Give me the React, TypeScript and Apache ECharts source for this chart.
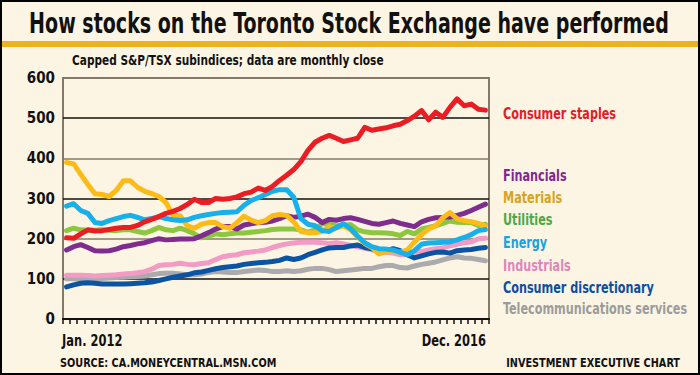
import React, { useEffect, useRef } from "react";
import * as echarts from "echarts";

const months: string[] = [];
for (let y = 2012; y <= 2016; y++) {
  for (let m = 1; m <= 12; m++) months.push(`${y}-${m < 10 ? "0" + m : m}`);
}

const consumerStaples = [202,201,212,222,219,220,223,226,228,228,233,242,248,255,263,268,275,285,298,290,290,300,298,300,304,312,316,326,320,330,345,358,372,392,420,440,450,457,450,442,446,450,477,470,473,476,481,485,494,505,519,496,515,502,527,548,531,535,522,520];
const financials = [172,180,185,178,170,169,170,174,180,183,187,190,195,200,197,198,199,199,200,207,215,224,230,230,224,234,237,240,241,244,250,257,253,256,261,253,240,248,246,250,252,248,243,238,236,240,244,238,234,230,242,248,252,253,254,258,263,270,278,286];
const materials = [390,386,360,335,312,310,305,320,344,344,328,318,312,305,290,258,257,232,226,236,240,240,230,226,240,256,246,240,245,257,260,258,242,218,215,215,218,230,226,232,222,205,188,178,162,168,168,166,172,192,210,224,232,252,265,250,245,242,238,232];
const utilities = [220,226,222,221,221,222,221,220,222,222,218,214,220,228,222,220,226,220,212,202,206,212,210,212,214,214,216,218,220,223,224,224,224,222,216,222,238,236,232,233,235,222,217,215,215,214,212,208,218,212,224,228,232,238,244,241,240,240,233,236];
const energy = [281,287,270,263,240,238,245,250,255,258,253,247,250,255,250,247,245,247,253,257,260,263,265,266,267,283,295,302,310,318,322,322,303,250,236,232,220,218,228,237,225,206,190,180,175,174,172,166,160,170,186,189,190,191,192,197,203,210,220,223];
const industrials = [109,109,109,108,107,108,109,110,112,113,115,118,124,133,135,136,139,136,135,138,140,148,155,158,160,165,167,169,172,178,183,187,189,191,191,191,190,188,190,187,183,180,176,172,168,166,164,160,160,164,168,172,175,177,182,186,190,192,200,201];
const consumerDiscretionary = [80,85,89,90,89,87,87,87,87,88,89,90,92,96,100,104,107,110,115,117,121,125,128,130,132,136,138,140,141,143,146,152,148,152,160,166,172,177,178,178,182,184,178,175,172,170,175,170,160,152,157,162,166,167,164,170,172,173,176,178];
const telecom = [100,100,99,100,100,101,102,103,104,105,106,107,110,113,114,114,112,110,110,112,116,118,117,116,116,118,120,122,121,118,118,120,118,120,124,126,126,123,118,120,122,124,126,126,130,133,133,128,127,132,136,139,142,147,152,155,152,151,148,145];

const seriesNames = [
  "Telecommunications services",
  "Industrials",
  "Consumer discretionary",
  "Utilities",
  "Financials",
  "Materials",
  "Energy",
  "Consumer staples",
];
const seriesData = [telecom, industrials, consumerDiscretionary, utilities, financials, materials, energy, consumerStaples];
const lineColors = ["#ABABAD", "#F29BC4", "#0B54A4", "#8DC63F", "#7E2C8E", "#FDBB17", "#17B0EA", "#EC1C24"];

const labelNames = [
  "Consumer staples",
  "Financials",
  "Materials",
  "Utilities",
  "Energy",
  "Industrials",
  "Consumer discretionary",
  "Telecommunications services",
];
const labelColors = ["#E21D25", "#7D2A8C", "#D9A31B", "#4DA846", "#1BA3DD", "#DE86BA", "#0E4E9E", "#9C9C9C"];
const labelY = [113, 175, 197, 219, 242, 265, 287, 308];

const xTickLabels = ["Jan. 2012", "Dec. 2016"];
const titleText = "How stocks on the Toronto Stock Exchange have performed";
const subtitleText = "Capped S&P/TSX subindices; data are monthly close";
const sourceText = "SOURCE: CA.MONEYCENTRAL.MSN.COM";
const creditText = "INVESTMENT EXECUTIVE CHART";

const COND = "'DejaVu Sans Condensed', 'Roboto', sans-serif";

export default function App() {
  const ref = useRef<HTMLDivElement>(null);
  useEffect(() => {
    if (!ref.current) return;
    const chart = echarts.init(ref.current, null, { renderer: "svg" });
    const graphics: any[] = [
      { type: "rect", shape: { x: 0, y: 41, width: 700, height: 6 }, style: { fill: "#EDB31D" }, z: 1 },
      { type: "text", x: 349, y: 23, scaleX: 0.756, style: { text: titleText, font: `bold 28px ${COND}`, fill: "#111", align: "center", verticalAlign: "middle" } },
      { type: "text", x: 72, y: 60, scaleX: 0.84, style: { text: subtitleText, font: `bold 14px ${COND}`, fill: "#111", verticalAlign: "middle" } },
      { type: "text", x: 62, y: 341, scaleX: 0.85, style: { text: xTickLabels[0], font: `bold 15px ${COND}`, fill: "#111", verticalAlign: "middle" } },
      { type: "text", x: 486, y: 341, scaleX: 0.85, style: { text: xTickLabels[1], font: `bold 15px ${COND}`, fill: "#111", align: "right", verticalAlign: "middle" } },
      { type: "text", x: 60, y: 363, scaleX: 0.9, style: { text: sourceText, font: `bold 12px ${COND}`, fill: "#111", verticalAlign: "middle" } },
      { type: "text", x: 680, y: 363, scaleX: 0.9, style: { text: creditText, font: `bold 12px ${COND}`, fill: "#111", align: "right", verticalAlign: "middle" } },
      { type: "rect", shape: { x: 1, y: 1, width: 698, height: 373 }, style: { fill: "none", stroke: "#000", lineWidth: 2 }, z: 10 },
    ];
    labelNames.forEach((n, i) => {
      graphics.push({ type: "text", x: 503, y: labelY[i], scaleX: 0.78, style: { text: n, font: `bold 16px ${COND}`, fill: labelColors[i], verticalAlign: "middle" } });
    });
    chart.setOption({
      animation: false,
      backgroundColor: "#FDF5E4",
      grid: { left: 63, right: 211, top: 78, bottom: 56, show: true, borderColor: "#857A6A", borderWidth: 2 },
      xAxis: {
        type: "category",
        data: months,
        boundaryGap: true,
        axisLine: { show: true, lineStyle: { color: "#111", width: 2 } },
        axisTick: { show: true, interval: 0, length: 5, lineStyle: { color: "#111", width: 1.5 } },
        axisLabel: { show: false },
        splitLine: { show: false },
      },
      yAxis: {
        type: "value",
        min: 0,
        max: 600,
        interval: 100,
        axisLine: { show: false },
        axisTick: { show: false },
        axisLabel: { color: "#111", fontSize: 15, fontWeight: "bold", fontFamily: COND, margin: 8 },
        splitLine: { show: true, lineStyle: { color: ["#857A6A", "#111"], width: 1.5 } },
      },
      series: seriesNames.map((n, i) => ({
        name: n,
        type: "line",
        data: seriesData[i],
        showSymbol: false,
        symbol: "none",
        lineStyle: { color: lineColors[i], width: 5, join: "round", cap: "round" },
        z: 3 + i,
      })),
      graphic: graphics,
    });
    return () => chart.dispose();
  }, []);
  return <div ref={ref} style={{ position: "absolute", left: 0, top: 0, width: 700, height: 375 }} />;
}
